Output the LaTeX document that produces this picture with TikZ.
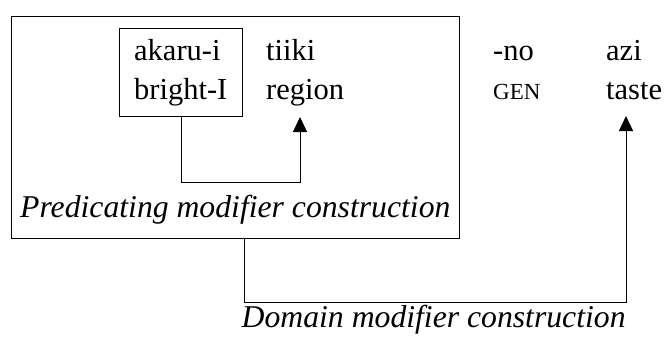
\documentclass[tikz,border=0pt]{standalone}
\usepackage{fontspec}
\setmainfont{Liberation Serif}
\usetikzlibrary{arrows.meta}
\begin{document}
\begin{tikzpicture}[x=1pt,y=-1pt,
  word/.style={anchor=base west,inner sep=0pt,font=\fontsize{30.5}{36}\selectfont},
  gloss/.style={anchor=base west,inner sep=0pt,font=\fontsize{23}{28}\selectfont},
  label/.style={anchor=base west,inner sep=0pt,font=\fontsize{31.7}{38}\selectfont\itshape},
  frame/.style={draw,line width=1pt,anchor=north west,inner sep=0pt},
  arr/.style={draw,line width=1pt,-{Triangle[length=15pt,width=14pt]}}]
  \useasboundingbox (0,0) rectangle (665,340);

  % outer box: predicating modifier construction
  \node[frame,minimum width=448pt,minimum height=222pt] (pmc) at (11,16) {};
  % inner box around the adjective
  \node[frame,minimum width=123pt,minimum height=88pt] (adj) at (119,28) {};

  % words and glosses
  \node[word] (akarui) at (134,60) {akaru-i};
  \node[word] (bright) at (134,99) {bright-I};
  \node[word] (tiiki) at (266,60) {tiiki};
  \node[word] (region) at (266,99) {region};
  \node[word] (no) at (493,60) {-no};
  \node[gloss] (gen) at (493,99) {GEN};
  \node[word] (azi) at (606,60) {azi};
  \node[word] (taste) at (606,99) {taste};

  % construction labels
  \node[label] (plab) at (20,217) {Predicating modifier construction};
  \node[label] (dlab) at (241.5,327) {Domain modifier construction};

  % arrow heads under the heads of the constructions
  \coordinate (regionhead) at (300,117);
  \coordinate (tastehead) at (626,116);

  \draw[arr] (adj.south) -- ++(0,65) -| (regionhead);
  \draw[arr] ([xshift=8.5pt]pmc.south) -- ++(0,63.5) -| (tastehead);
\end{tikzpicture}
\end{document}
